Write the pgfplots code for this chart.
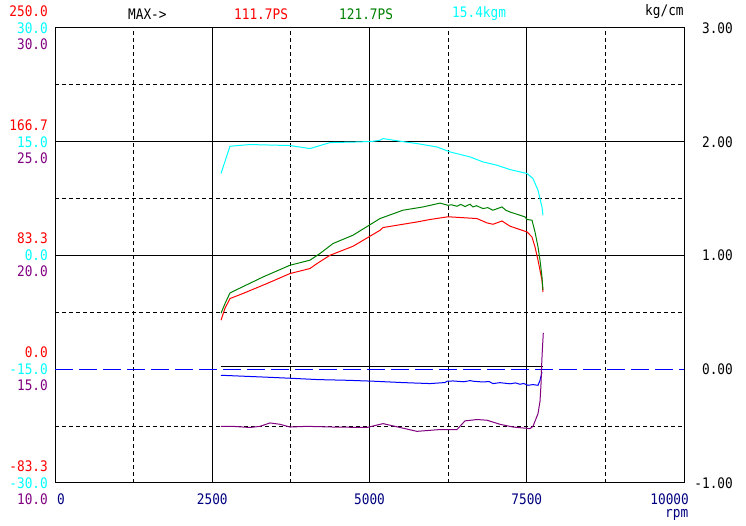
\documentclass[border=0pt]{standalone}
\usepackage{fontspec}
\setmainfont{DejaVu Sans Mono}[FakeStretch=0.88]
\usepackage{pgfplots}
\pgfplotsset{compat=1.18}

\definecolor{cy}{RGB}{0,255,255}
\definecolor{gr}{RGB}{0,128,0}
\definecolor{pu}{RGB}{128,0,128}
\definecolor{nv}{RGB}{0,0,128}
\definecolor{bl}{RGB}{0,0,255}
\newcommand\lf{\fontsize{14.5}{16}\selectfont}

\pgfplotsset{
  dyno/.style={
    at={(55pt,43pt)}, anchor=south west,
    scale only axis, width=629pt, height=455pt,
    xmin=0, xmax=10000,
    major tick length=0pt, minor tick length=0pt,
    scaled ticks=false,
    tick label style={font=\lf},
    /pgf/number format/assume math mode=true,
  },
  side/.style={
    dyno, hide x axis, xtick=\empty,
    axis line style={draw=none},
    yticklabel style={anchor=east, inner sep=0pt, xshift=-7pt},
    /pgf/number format/fixed,
    /pgf/number format/fixed zerofill,
    /pgf/number format/precision=1,
  },
}

% power (PS)
\pgfplotstableread{
rpm ps
2639 35.9
2703 44.7
2782 51.8
2989 55.5
3370 62.8
3736 70.1
4054 73.8
4165 77.4
4372 83.5
4738 90.1
5167 101.8
5215 103.8
5437 105.5
5755 107.9
5962 109.7
6248 111.7
6709 110.4
6868 107.2
6963 106.2
7106 108.6
7234 104.8
7393 102.3
7504 100.6
7583 96.9
7631 89.6
7679 79.9
7742 65.2
7758 56.6
}\powerA

\pgfplotstableread{
rpm ps
2639 41.0
2703 48.1
2782 55.9
2893 58.4
3307 67.6
3736 76.2
4054 79.9
4213 84.8
4420 92.1
4738 98.2
5167 110.4
5532 116.5
5850 118.9
6121 121.7
6248 120.1
6300 120.5
6391 119.4
6450 120.8
6520 119.2
6598 120.9
6645 118.9
6700 119.8
6804 117.7
6880 118.4
6963 116.5
7040 117.8
7106 118.9
7170 116.4
7234 115.2
7393 112.8
7472 111.6
7504 109.7
7583 109.2
7631 100.6
7679 89.6
7711 79.9
7742 67.6
7758 57.9
}\powerB

% torque (kgm)
\pgfplotstableread{
rpm tq
2639 10.81
2782 14.41
3100 14.63
3736 14.50
4054 14.10
4372 14.89
4801 14.97
5050 15.05
5167 15.20
5215 15.42
5485 15.07
5755 14.76
6073 14.31
6280 13.66
6598 13.00
6804 12.34
7027 11.90
7234 11.33
7504 10.81
7599 10.15
7679 8.60
7742 6.40
7758 5.31
}\torque

% boost (kg/cm)
\pgfplotstableread{
rpm bst
2639 -0.053
3291 -0.068
3736 -0.079
4181 -0.091
4642 -0.097
5056 -0.105
5517 -0.117
5962 -0.126
6200 -0.117
6232 -0.105
6327 -0.103
6500 -0.110
6600 -0.100
6645 -0.105
6800 -0.112
6900 -0.108
6963 -0.126
7075 -0.118
7234 -0.128
7320 -0.120
7393 -0.132
7450 -0.125
7520 -0.141
7600 -0.135
7679 -0.141
7711 -0.097
7742 -0.024
}\boost

% A/F
\pgfplotstableread{
rpm af
2639 12.49
2830 12.49
3100 12.44
3259 12.49
3418 12.64
3577 12.58
3736 12.46
4006 12.49
4420 12.46
4960 12.44
5215 12.61
5485 12.44
5755 12.27
6121 12.35
6391 12.35
6518 12.73
6709 12.79
6868 12.76
7075 12.58
7281 12.46
7552 12.39
7599 12.49
7679 13.05
7711 13.6
7726 14.3
7740 15.4
7753 16.1
7763 16.6
}\afr

\begin{document}
\begin{tikzpicture}[every node/.style={font=\lf}]
\useasboundingbox (0pt,0pt) rectangle (746pt,526pt);

% main frame, grid, kg/cm scale on the right
\begin{axis}[dyno,
    ymin=-1, ymax=3,
    axis line style={black, line width=1pt},
    xtick={0,2500,5000,7500,10000},
    xticklabels={,2500,5000,7500,},
    xticklabel style={nv, inner sep=0pt, yshift=-11pt},
    minor xtick={1250,3750,6250,8750},
    ytick={-1,0,1,2,3},
    minor ytick={-0.5,0.5,1.5,2.5},
    yticklabel pos=right,
    yticklabel style={anchor=east, inner sep=0pt, xshift=49pt},
    /pgf/number format/fixed,
    /pgf/number format/fixed zerofill,
    /pgf/number format/precision=2,
    xmajorgrids, xminorgrids, yminorgrids,
    extra y ticks={1,2}, extra y tick labels={},
    extra y tick style={ymajorgrids=true},
    major grid style={black, line width=1pt},
    minor grid style={black, line width=1pt, dash pattern=on 4pt off 3pt},
]
\addplot[black, line width=1pt] coordinates {(2639,0.02) (7758,0.02)};
\addplot[color=bl, line width=1pt] table[x=rpm, y=bst] {\boost};
\addplot[draw=bl, line width=1.2pt, dash pattern=on 18pt off 6pt] coordinates {(0,0) (10000,0)};
\end{axis}

% PS scale
\begin{axis}[side, ymin=-83.333, ymax=250,
    ytick={-83.333,0,83.333,166.667,250},
    yticklabel style={red, yshift=17pt}]
\addplot[red, line width=1pt] table[x=rpm, y=ps] {\powerA};
\addplot[gr, line width=1pt] table[x=rpm, y=ps] {\powerB};
\end{axis}

% kgm scale
\begin{axis}[side, ymin=-30, ymax=30,
    ytick={-30,-15,0,15,30},
    yticklabel style={cy}]
\addplot[cy, line width=1pt] table[x=rpm, y=tq] {\torque};
\end{axis}

% A/F scale
\begin{axis}[side, ymin=10, ymax=30,
    ytick={10,15,20,25,30},
    yticklabel style={pu, yshift=-16pt}]
\addplot[pu, line width=1pt] table[x=rpm, y=af] {\afr};
\end{axis}

\node[anchor=west, inner sep=0pt, nv] at (57pt,26.5pt) {0};
\node[anchor=east, inner sep=0pt, nv] at (689pt,26.5pt) {10000};
\node[anchor=base west, inner sep=0pt, nv] at (665pt,8pt) {rpm};
\node[anchor=west, inner sep=0pt] at (128pt,512pt) {MAX->};
\node[anchor=west, inner sep=0pt, red] at (234pt,512pt) {111.7PS};
\node[anchor=west, inner sep=0pt, gr] at (339pt,512pt) {121.7PS};
\node[anchor=west, inner sep=0pt, cy] at (452pt,512pt) {15.4kgm};
\node[anchor=west, inner sep=0pt] at (645pt,514pt) {kg/cm};
\end{tikzpicture}
\end{document}
